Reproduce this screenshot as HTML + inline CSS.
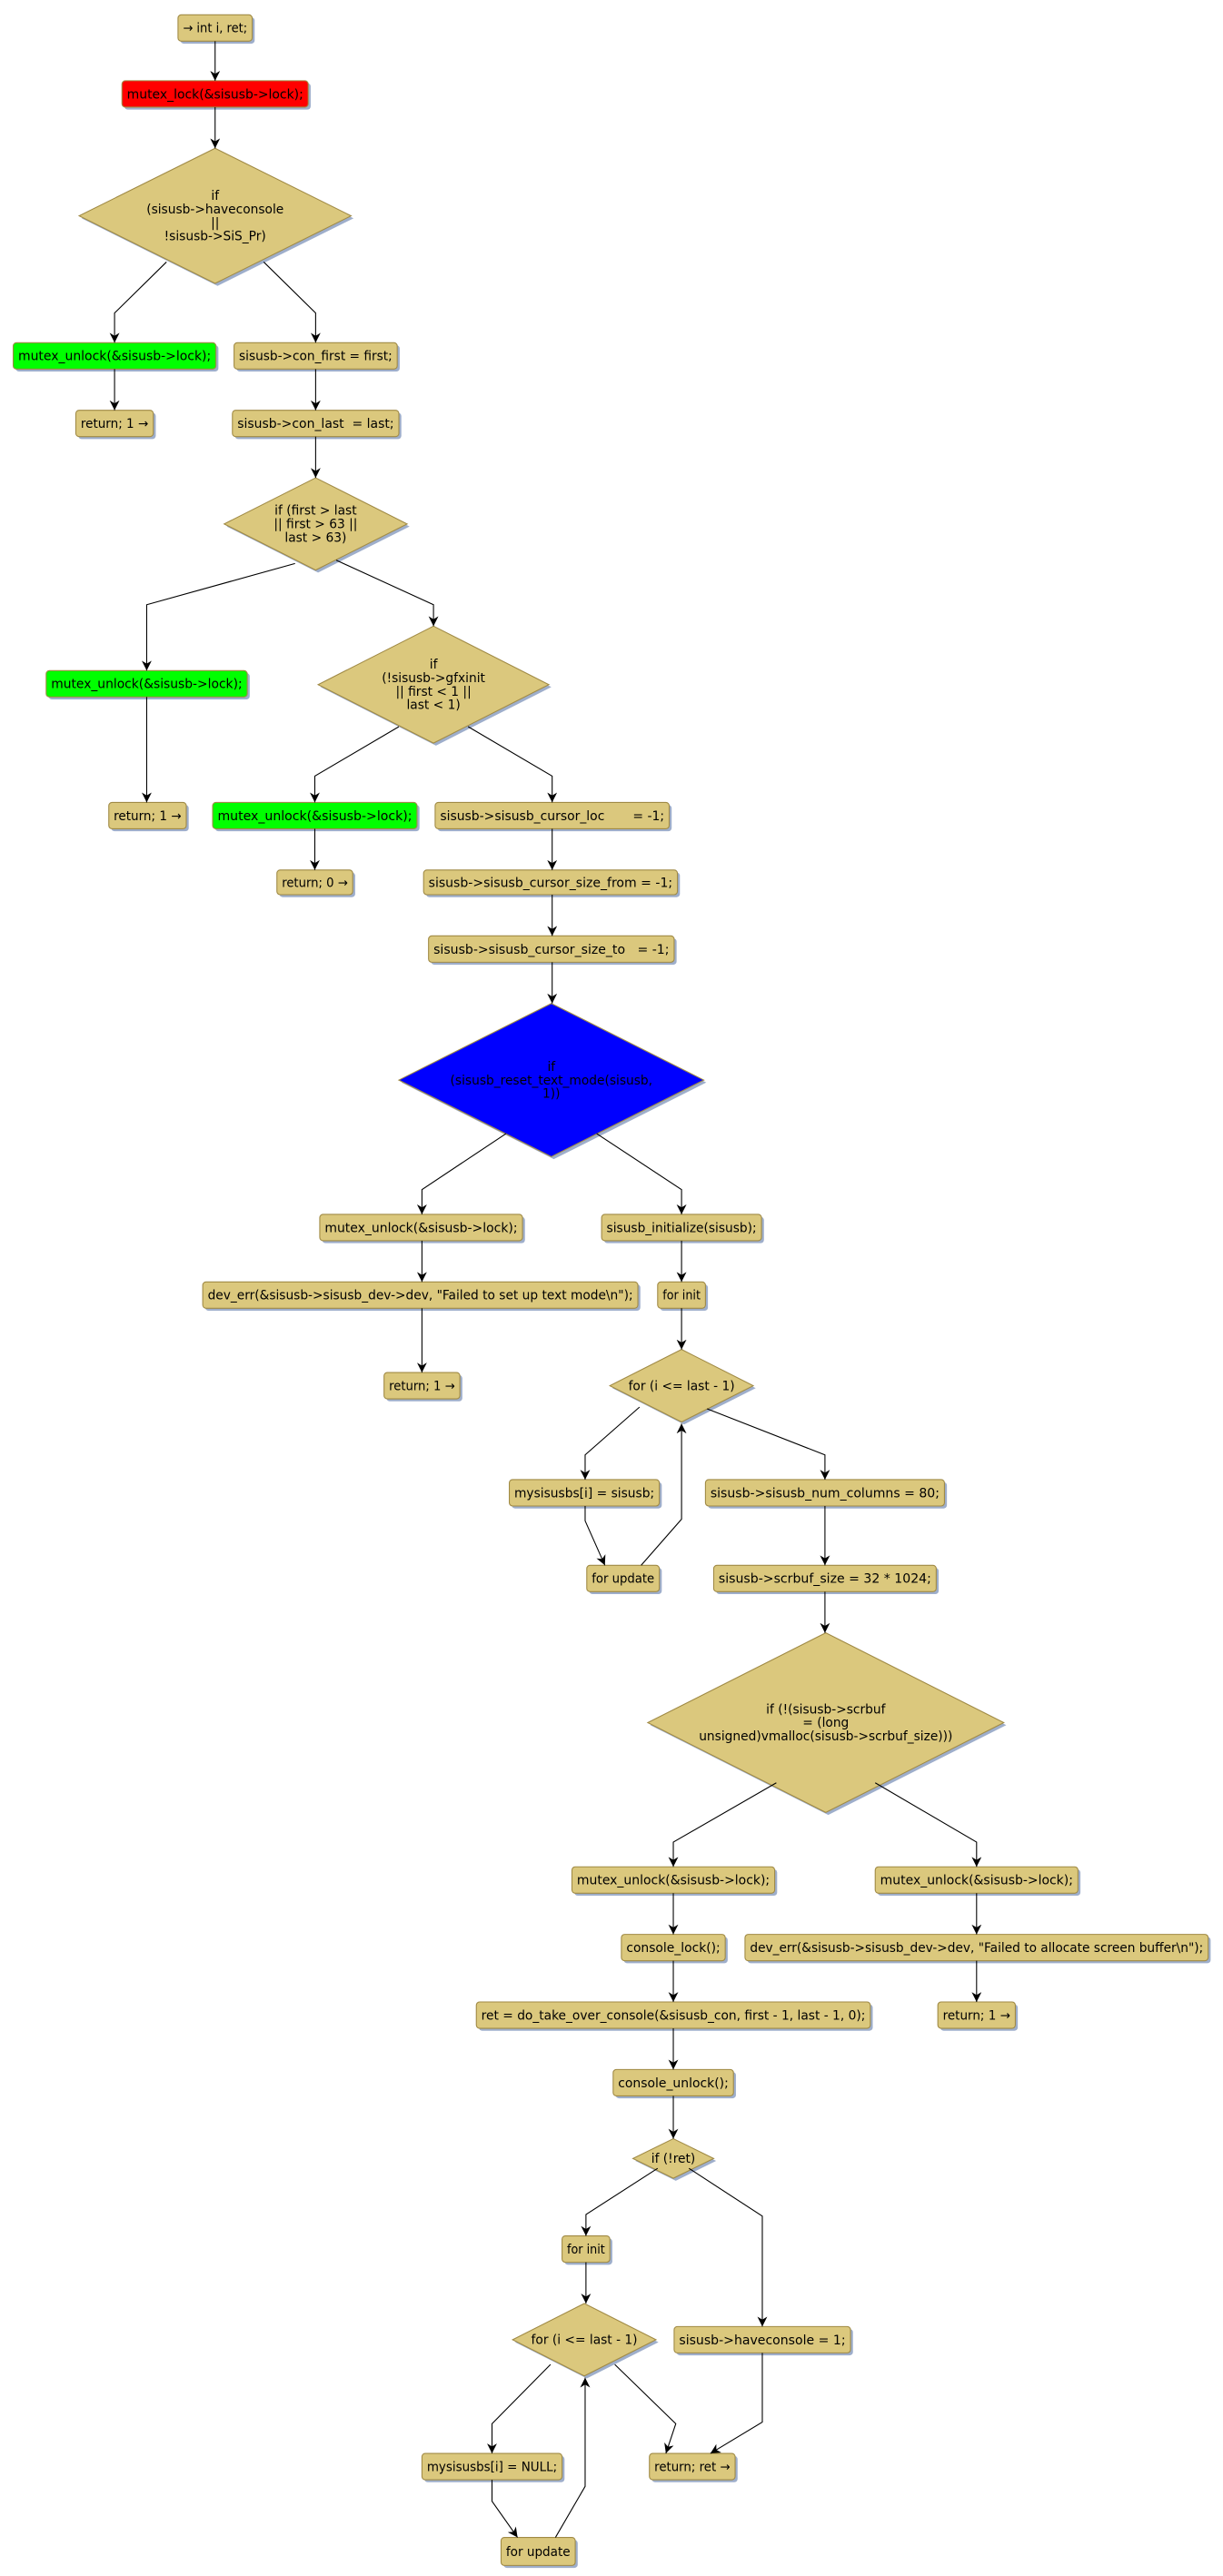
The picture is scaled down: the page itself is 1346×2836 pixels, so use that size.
<!DOCTYPE html>
<html><head><meta charset="utf-8"><style>
html,body{margin:0;padding:0;background:#fff}
svg{display:block}
text{font-family:"DejaVu Sans","Liberation Sans",sans-serif;font-size:7.6px;fill:#000;white-space:pre}
.b{fill:#dbc87d;stroke:#a08a45;stroke-width:0.6}
.s{fill:#9eaecb}
.l{fill:none;stroke:#000;stroke-width:0.6}
</style></head><body>
<svg width="1346" height="2836" viewBox="0 0 742 1563.4" xmlns="http://www.w3.org/2000/svg" xml:space="preserve">
<defs><marker id="a" viewBox="0 0 10 10" refX="10" refY="5" markerWidth="6" markerHeight="6" markerUnits="userSpaceOnUse" orient="auto"><path d="M0,0 L10,5 L0,10 L3,5 z" fill="#000"/></marker></defs>
<g id="boxes"></g>
<g id="lines"></g>
</svg>
<script>
const NS="http://www.w3.org/2000/svg";
const gb=document.getElementById("boxes"), gl=document.getElementById("lines");
function el(t,a,p){const e=document.createElementNS(NS,t);for(const k in a)e.setAttribute(k,a[k]);(p||gb).appendChild(e);return e;}
function txt(x,y,s,fill,w){const a={x:x,y:y,"text-anchor":"middle"};if(w){a.textLength=w;a.lengthAdjust="spacingAndGlyphs";}const t=el("text",a);t.textContent=s;if(fill)t.style.fill=fill;return t;}
function box(x1,x2,y1,y2,s,fill,tf){
 el("rect",{x:x1+1.5,y:y1+1.5,width:x2-x1,height:y2-y1,rx:2,class:"s"});
 const r=el("rect",{x:x1,y:y1,width:x2-x1,height:y2-y1,rx:2,class:"b"});
 if(fill)r.style.fill=fill;
 txt((x1+x2)/2,(y1+y2)/2+2.7,s,tf,(x2-x1)-6);
}
function dia(x1,x2,y1,y2,lines,fill,tf){
 const cx=(x1+x2)/2,cy=(y1+y2)/2;
 el("polygon",{points:`${cx+1.5},${y1+1.5} ${x2+1.5},${cy+1.5} ${cx+1.5},${y2+1.5} ${x1+1.5},${cy+1.5}`,class:"s"});
 const p=el("polygon",{points:`${cx},${y1} ${x2},${cy} ${cx},${y2} ${x1},${cy}`,class:"b"});
 if(fill)p.style.fill=fill;
 const n=lines.length,lh=8.2;
 lines.forEach((s,i)=>txt(cx,cy+2.6+(i-(n-1)/2)*lh,s,tf));
}
function ln(pts){el("polyline",{points:pts.map(p=>p.join(",")).join(" "),class:"l","marker-end":"url(#a)"},gl);}

box(108,153,9,25,"→ int i, ret;");
box(74,187,49,65,"mutex_lock(&sisusb->lock);","#ff0000");
dia(48,213,90,172,["if","(sisusb->haveconsole","||","!sisusb->SiS_Pr)"]);
box(8,131,208,224,"mutex_unlock(&sisusb->lock);","#00ff00");
box(142,241,208,224,"sisusb->con_first = first;");
box(46,93,249,265,"return; 1 →");
box(141,242,249,265,"sisusb->con_last  = last;");
dia(136,247,290,346,["if (first > last","|| first > 63 ||","last > 63)"]);
box(28,150,407,423,"mutex_unlock(&sisusb->lock);","#00ff00");
dia(193,333,380,451,["if","(!sisusb->gfxinit","|| first < 1 ||","last < 1)"]);
box(66,113,487,503,"return; 1 →");
box(129,253,487,503,"mutex_unlock(&sisusb->lock);","#00ff00");
box(264,406,487,503,"sisusb->sisusb_cursor_loc       = -1;");
box(168,214,528,543,"return; 0 →");
box(257,411,528,543,"sisusb->sisusb_cursor_size_from = -1;");
box(260,409,568,584,"sisusb->sisusb_cursor_size_to   = -1;");
dia(242,427,609,702,["if","(sisusb_reset_text_mode(sisusb,","1))"],"#0000ff");
box(194,317,737,753,"mutex_unlock(&sisusb->lock);");
box(365,462,737,753,"sisusb_initialize(sisusb);");
box(123,387,778,794,"dev_err(&sisusb->sisusb_dev->dev, \"Failed to set up text mode\\n\");");
box(399,428,778,794,"for init");
box(233,279,833,849,"return; 1 →");
dia(370,457,819,863,["for (i <= last - 1)"]);
box(309,400,898,914,"mysisusbs[i] = sisusb;");
box(428,573,898,914,"sisusb->sisusb_num_columns = 80;");
box(356,400,950,966,"for update");
box(433,568,950,966,"sisusb->scrbuf_size = 32 * 1024;");
dia(393,609,991,1100,["if (!(sisusb->scrbuf","= (long","unsigned)vmalloc(sisusb->scrbuf_size)))"]);
box(347,470,1133,1149,"mutex_unlock(&sisusb->lock);");
box(531,654,1133,1149,"mutex_unlock(&sisusb->lock);");
box(377,440,1174,1190,"console_lock();");
box(452,733,1174,1190,"dev_err(&sisusb->sisusb_dev->dev, \"Failed to allocate screen buffer\\n\");");
box(289,528,1215,1231,"ret = do_take_over_console(&sisusb_con, first - 1, last - 1, 0);");
box(569,616,1215,1231,"return; 1 →");
box(372,445,1256,1272,"console_unlock();");
dia(384,433,1298,1322,["if (!ret)"]);
box(341,370,1357,1373,"for init");
dia(311,398,1398,1442,["for (i <= last - 1)"]);
box(409,516,1412,1428,"sisusb->haveconsole = 1;");
box(256,341,1489,1505,"mysisusbs[i] = NULL;");
box(394,446,1489,1505,"return; ret →");
box(304,349,1540,1557,"for update");

ln([[130.5,25],[130.5,49]]);
ln([[130.5,65],[130.5,90]]);
ln([[101,159],[69.5,190],[69.5,208]]);
ln([[160,159],[191.5,190],[191.5,208]]);
ln([[69.5,224],[69.5,249]]);
ln([[191.5,224],[191.5,249]]);
ln([[191.5,265],[191.5,290]]);
ln([[179,342],[89,367],[89,407]]);
ln([[204,340],[263,367],[263,380]]);
ln([[89,423],[89,487]]);
ln([[242,441],[191,471],[191,487]]);
ln([[284,441],[335,471],[335,487]]);
ln([[191,503],[191,528]]);
ln([[335,503],[335,528]]);
ln([[335,543],[335,568]]);
ln([[335,584],[335,609]]);
ln([[307,688],[256,722],[256,737]]);
ln([[362,688],[413.5,722],[413.5,737]]);
ln([[256,753],[256,778]]);
ln([[413.5,753],[413.5,778]]);
ln([[256,794],[256,833]]);
ln([[413.5,794],[413.5,819]]);
ln([[388,854],[355,883],[355,898]]);
ln([[429,855],[500.5,883],[500.5,898]]);
ln([[355,914],[355,923],[367,950]]);
ln([[389,950],[413.5,922],[413.5,864]]);
ln([[500.5,914],[500.5,950]]);
ln([[500.5,966],[500.5,991]]);
ln([[471,1082],[408.5,1118],[408.5,1133]]);
ln([[531,1082],[592.5,1118],[592.5,1133]]);
ln([[408.5,1149],[408.5,1174]]);
ln([[592.5,1149],[592.5,1174]]);
ln([[408.5,1190],[408.5,1215]]);
ln([[592.5,1190],[592.5,1215]]);
ln([[408.5,1231],[408.5,1256]]);
ln([[408.5,1272],[408.5,1298]]);
ln([[399,1316],[355.5,1344],[355.5,1357]]);
ln([[418,1316],[462.5,1345],[462.5,1412]]);
ln([[355.5,1373],[355.5,1398]]);
ln([[334,1435],[298.5,1471],[298.5,1489]]);
ln([[373,1435],[410,1471],[404,1489]]);
ln([[462.5,1428],[462.5,1470],[431,1489]]);
ln([[298.5,1505],[298.5,1518],[314,1540]]);
ln([[337,1540],[355,1509],[355,1443]]);
</script>
</body></html>
